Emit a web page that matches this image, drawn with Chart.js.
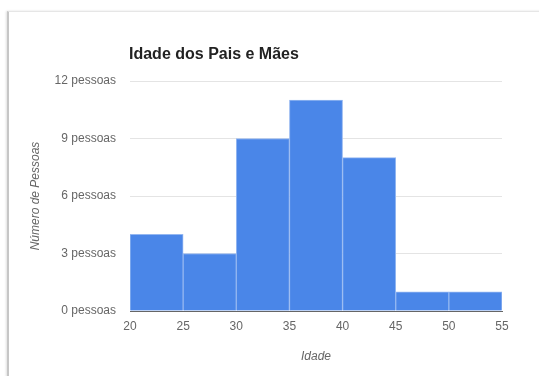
<!DOCTYPE html>
<html lang="pt">
<head>
<meta charset="utf-8">
<title>Idade dos Pais e Mães</title>
<script src="https://cdn.jsdelivr.net/npm/chart.js@4.4.1/dist/chart.umd.min.js"></script>
<style>
  html, body { margin: 0; padding: 0; background: #fff; }
  body { width: 539px; height: 376px; position: relative; overflow: hidden; }
  .frame {
    position: absolute; left: 7px; top: 11px; right: -4px; bottom: -4px;
    border-left: 2px solid #c6c6c6; border-top: 1px solid #e6e6e6;
    box-shadow: -1px 0 2px rgba(0,0,0,0.12);
  }
  .wrap { position: absolute; left: 0; top: 0; width: 539px; height: 376px; }
</style>
</head>
<body>
<div class="frame"></div>
<div class="wrap"><canvas id="chart" width="539" height="376"></canvas></div>
<script>
// histogram bins: start age of each 5-year range and how many people fall in it
const binStarts = [20, 25, 30, 35, 40, 45, 50];
const binWidth = 5;
const counts = [4, 3, 9, 11, 8, 1, 1];
const yTicks = [0, 3, 6, 9, 12];

const titleText = 'Idade dos Pais e Mães';
const font = "Arial, 'Liberation Sans', sans-serif";

const points = binStarts.map((s, i) => ({ x: s + binWidth / 2, y: counts[i] }));

// chart title sits flush with the plot area's left edge
const titlePlugin = {
  id: 'leftTitle',
  afterDraw(chart) {
    const { ctx, chartArea } = chart;
    ctx.save();
    ctx.font = 'bold 16px ' + font;
    ctx.fillStyle = '#222';
    ctx.textBaseline = 'middle';
    ctx.fillText(titleText, chartArea.left - 1, 55);
    ctx.restore();
  }
};

new Chart(document.getElementById('chart'), {
  type: 'bar',
  data: {
    datasets: [{
      data: points,
      backgroundColor: '#4a86e8',
      borderColor: '#94b7f1',
      borderWidth: 1,
      barPercentage: 1,
      categoryPercentage: 1
    }]
  },
  options: {
    responsive: false,
    animation: false,
    layout: { padding: { top: 81, right: 37, bottom: 0, left: 0 } },
    plugins: { legend: { display: false }, tooltip: { enabled: false } },
    scales: {
      x: {
        type: 'linear',
        offset: false,
        min: binStarts[0],
        max: binStarts[binStarts.length - 1] + binWidth,
        z: 1,
        grid: { display: false, drawTicks: false },
        border: { display: true, color: '#666', width: 1 },
        ticks: { stepSize: binWidth, padding: 8, color: '#666', font: { family: font, size: 12 } },
        title: { display: true, text: 'Idade', color: '#666', padding: { top: 12, bottom: 12 },
                 font: { family: font, size: 12, style: 'italic' } },
        afterFit(scale) { scale.height = 65; }
      },
      y: {
        min: yTicks[0],
        max: yTicks[yTicks.length - 1],
        grid: { color: '#e4e4e4', drawTicks: false },
        border: { display: false },
        afterBuildTicks(scale) { scale.ticks = yTicks.map(v => ({ value: v })); },
        ticks: { padding: 14, color: '#666', font: { family: font, size: 12 },
                 callback: v => v + ' pessoas' },
        title: { display: true, text: 'Número de Pessoas', color: '#666', padding: { top: 28, bottom: 28 },
                 font: { family: font, size: 12, style: 'italic' } },
        afterFit(scale) { scale.width = 130; }
      }
    }
  },
  plugins: [titlePlugin]
});
</script>
</body>
</html>
